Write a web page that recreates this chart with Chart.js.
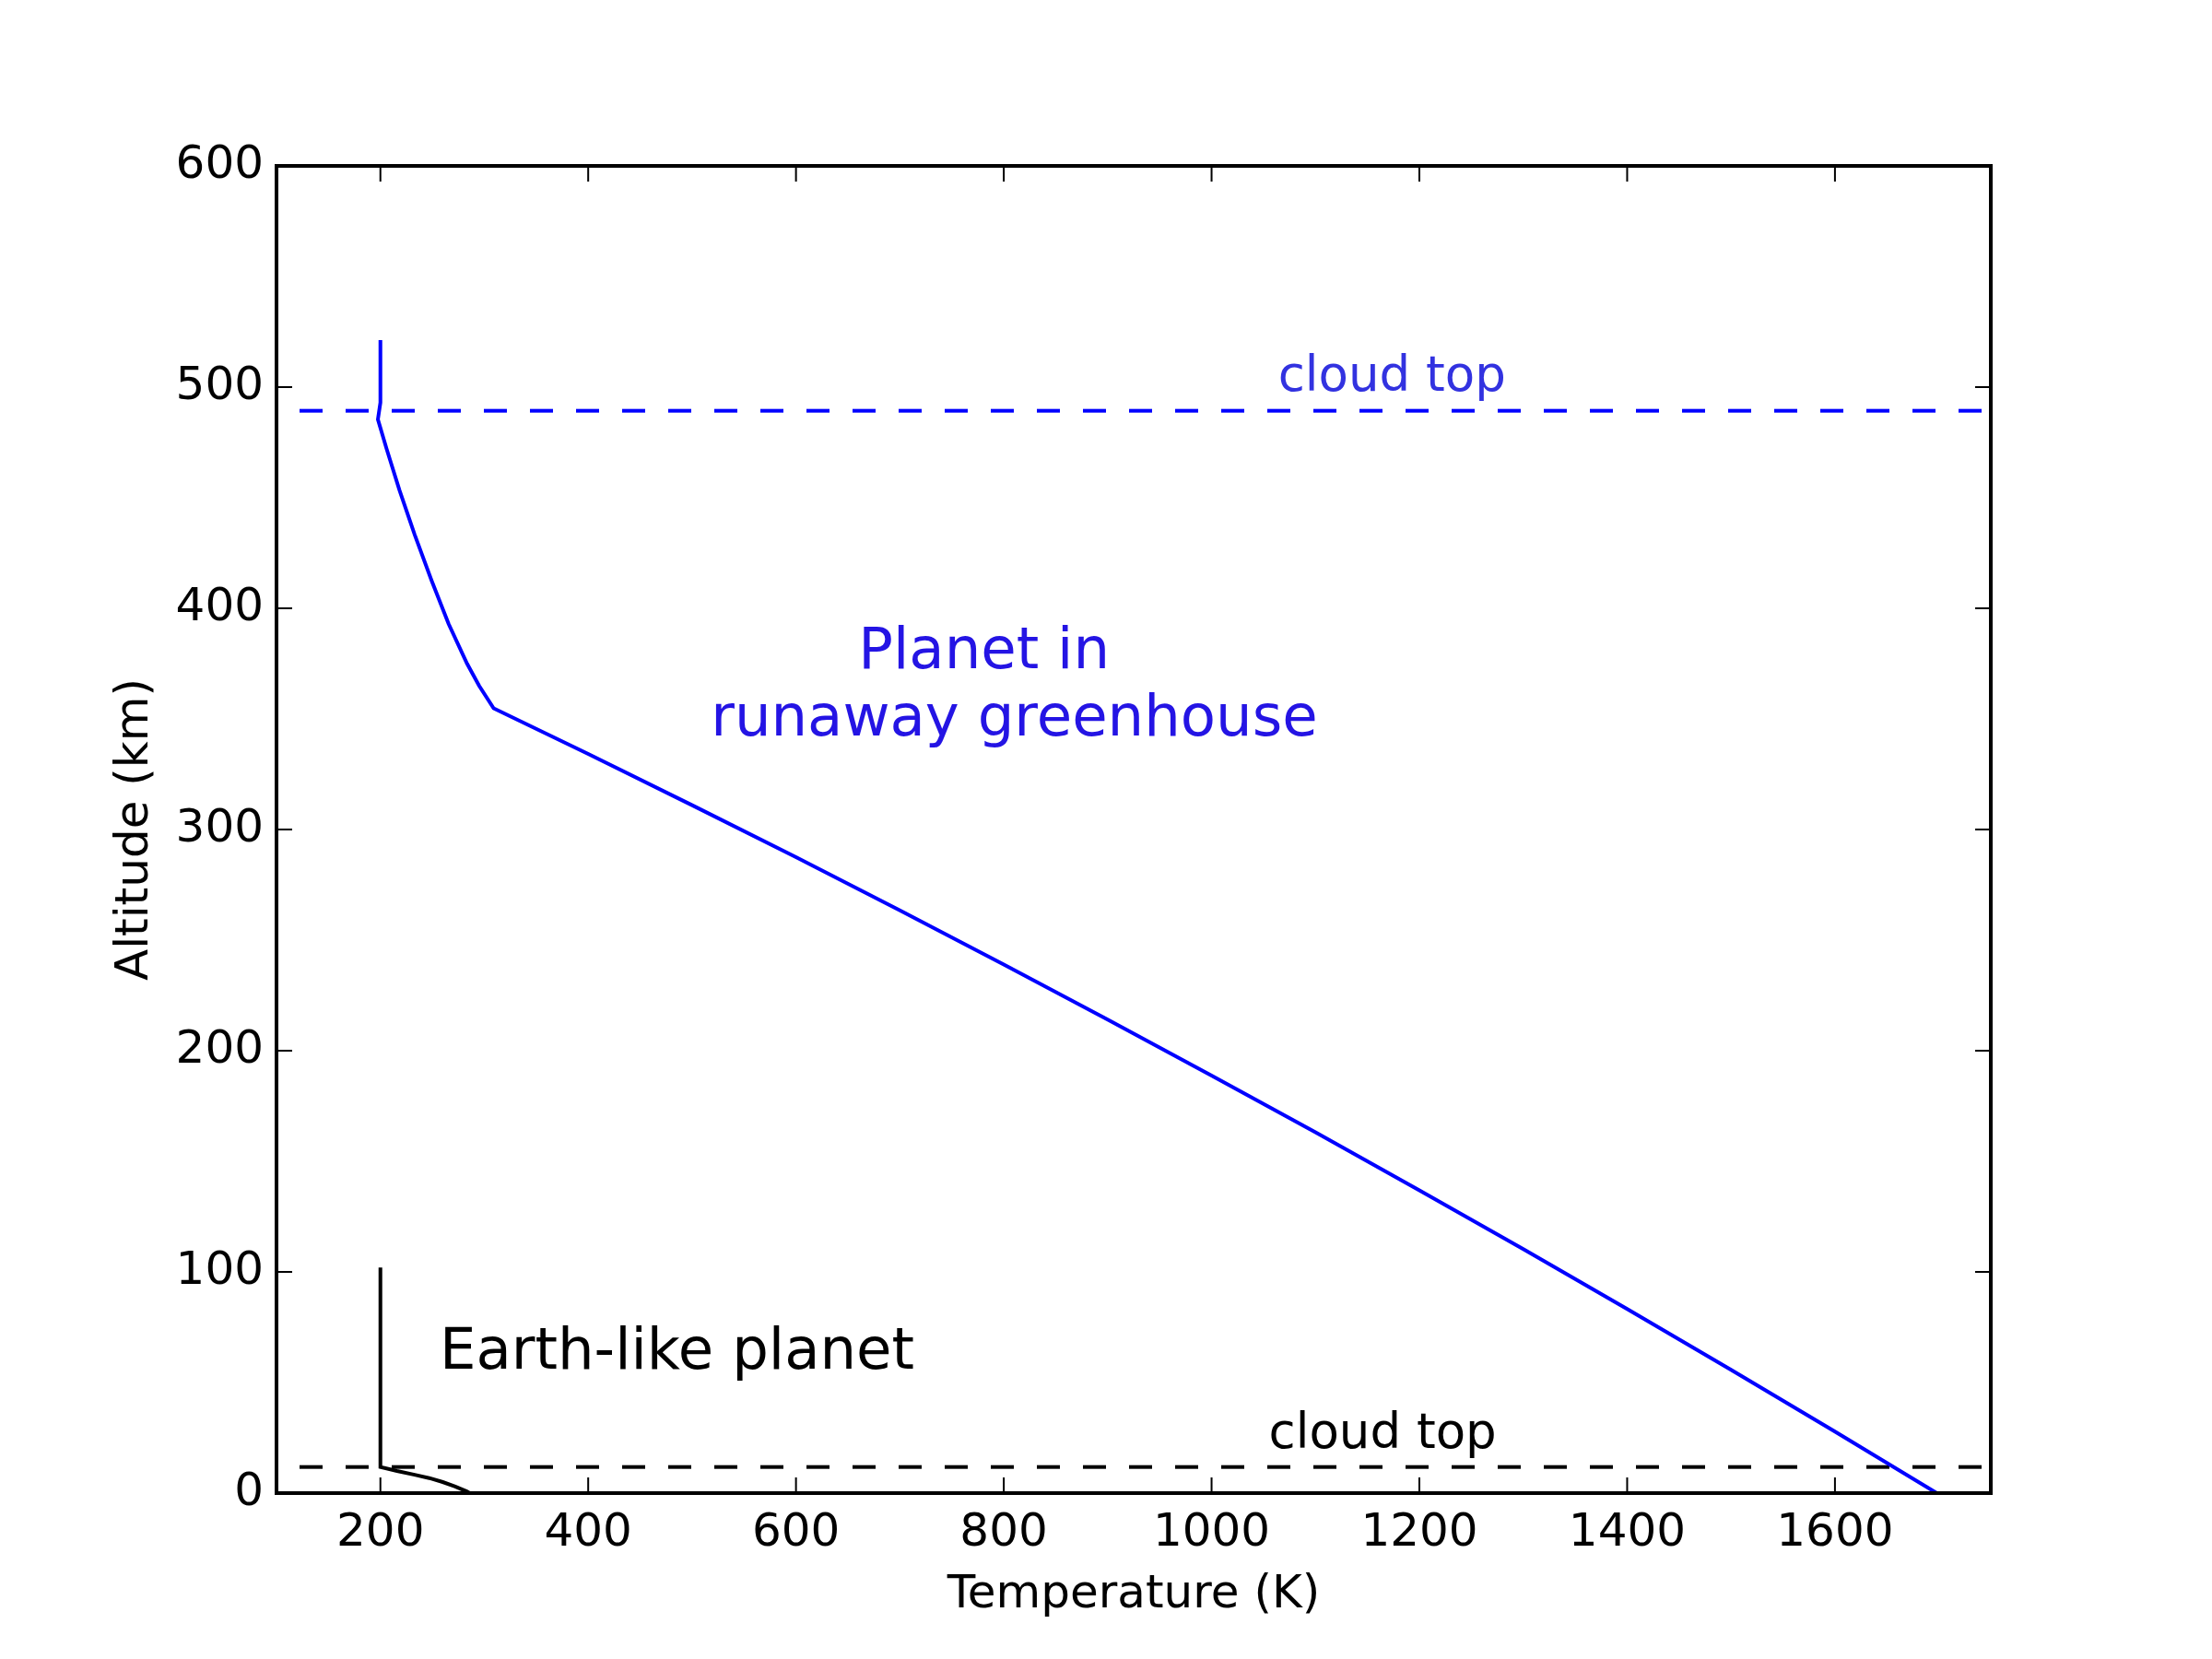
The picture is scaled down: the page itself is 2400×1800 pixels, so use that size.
<!DOCTYPE html>
<html>
<head>
<meta charset="utf-8">
<script src="https://cdn.jsdelivr.net/npm/chart.js@4/dist/chart.umd.min.js"></script>
<style>
  html, body { margin: 0; padding: 0; background: #fff; }
  #wrap { width: 2400px; height: 1800px; }
</style>
</head>
<body>
<div id="wrap"><canvas id="profile" width="2400" height="1800"></canvas></div>
<script>
// temperature profiles (K vs km)
const earthTemp = [286, 283, 272, 260, 247, 233, 216, 200, 200];
const earthAlt = [0, 0.8, 3, 5, 6.8, 8.3, 10, 11.8, 102];

const hotTemp = [1698, 1600, 1500, 1400, 1300, 1200, 1100, 1000, 900, 800, 700, 600, 500, 400, 309,
  295, 283.4, 265.6, 249.3, 233, 218.3, 205.9, 197.6, 200, 200];
const hotAlt = [0, 27.8, 55.7, 83.2, 110.3, 136.9, 163.1, 188.8, 214.1, 239, 263.4, 287.5, 311, 334.2, 354.8,
  365, 375, 393, 412.5, 433.3, 453.5, 472.2, 485.4, 493, 521.3];

const earthCloudTop = 11.8;
const hotCloudTop = 489.3;

const tempRange = [100, 1750];
const altRange = [0, 600];
const tempTicks = [200, 400, 600, 800, 1000, 1200, 1400, 1600];
const altTicks = [0, 100, 200, 300, 400, 500, 600];

// text labels: [text, temperature, altitude, size, colour]
const notes = [
  ['cloud top', 1064, 498.4, 53, '#3232e0'],
  ['Planet in', 660, 372.9, 62.5, '#2414e4'],
  ['runaway greenhouse', 518, 342.7, 62.5, '#2414e4'],
  ['Earth-like planet', 257, 56.2, 62.5, '#000000'],
  ['cloud top', 1055, 20.6, 53, '#000000']
];

const pairs = (xs, ys) => xs.map((x, i) => ({ x: x, y: ys[i] }));
const FONT = "'DejaVu Sans', sans-serif";

const frameAndNotes = {
  id: 'frameAndNotes',
  afterDatasetsDraw(chart) {
    const ctx = chart.ctx;
    const a = chart.chartArea;
    const xs = chart.scales.x, ys = chart.scales.y;
    const tick = 17;
    ctx.save();
    // inward ticks on all sides
    ctx.strokeStyle = '#000';
    ctx.lineWidth = 2;
    ctx.beginPath();
    tempTicks.forEach(v => {
      const px = xs.getPixelForValue(v);
      ctx.moveTo(px, a.bottom); ctx.lineTo(px, a.bottom - tick);
      ctx.moveTo(px, a.top); ctx.lineTo(px, a.top + tick);
    });
    altTicks.forEach(v => {
      const py = ys.getPixelForValue(v);
      ctx.moveTo(a.left, py); ctx.lineTo(a.left + tick, py);
      ctx.moveTo(a.right, py); ctx.lineTo(a.right - tick, py);
    });
    ctx.stroke();
    // axes frame
    ctx.lineWidth = 4;
    ctx.strokeRect(a.left, a.top, a.right - a.left, a.bottom - a.top);
    // annotations
    ctx.textAlign = 'left';
    ctx.textBaseline = 'alphabetic';
    notes.forEach(([txt, t, h, size, col]) => {
      ctx.font = size + 'px ' + FONT;
      ctx.fillStyle = col;
      ctx.fillText(txt, xs.getPixelForValue(t), ys.getPixelForValue(h));
    });
    ctx.restore();
  }
};

new Chart(document.getElementById('profile'), {
  type: 'scatter',
  data: {
    datasets: [
      {
        data: pairs(hotTemp, hotAlt),
        showLine: true, borderColor: '#0000ff', borderWidth: 4,
        pointRadius: 0, tension: 0
      },
      {
        data: pairs(earthTemp, earthAlt),
        showLine: true, borderColor: '#000000', borderWidth: 4,
        pointRadius: 0, tension: 0
      },
      {
        data: pairs(tempRange, [hotCloudTop, hotCloudTop]),
        showLine: true, borderColor: '#0000ff', borderWidth: 4,
        borderDash: [25, 25], borderDashOffset: 25, pointRadius: 0
      },
      {
        data: pairs(tempRange, [earthCloudTop, earthCloudTop]),
        showLine: true, borderColor: '#000000', borderWidth: 4,
        borderDash: [25, 25], borderDashOffset: 25, pointRadius: 0
      }
    ]
  },
  options: {
    responsive: false,
    animation: false,
    devicePixelRatio: 1,
    layout: { padding: { left: 0, right: 240, top: 180, bottom: 0 } },
    plugins: { legend: { display: false }, tooltip: { enabled: false } },
    scales: {
      x: {
        type: 'linear',
        min: tempRange[0], max: tempRange[1],
        afterBuildTicks: s => { s.ticks = tempTicks.map(v => ({ value: v })); },
        afterFit: s => { s.height = 180; },
        grid: { display: false, drawTicks: false },
        border: { display: false },
        ticks: {
          padding: 14, color: '#000', font: { family: FONT, size: 50 },
          callback: v => String(v)
        },
        title: {
          display: true, text: 'Temperature (K)', color: '#000',
          font: { family: FONT, size: 50, lineHeight: 1.2 },
          padding: { top: 0, bottom: 39 }
        }
      },
      y: {
        type: 'linear',
        min: altRange[0], max: altRange[1],
        afterBuildTicks: s => { s.ticks = altTicks.map(v => ({ value: v })); },
        afterFit: s => { s.width = 300; },
        grid: { display: false, drawTicks: false },
        border: { display: false },
        ticks: {
          padding: 14, color: '#000', font: { family: FONT, size: 50 },
          callback: v => String(v)
        },
        title: {
          display: true, text: 'Altitude (km)', color: '#000',
          font: { family: FONT, size: 50, lineHeight: 1.2 },
          padding: { top: 117, bottom: 0 }
        }
      }
    }
  },
  plugins: [frameAndNotes]
});
</script>
</body>
</html>
